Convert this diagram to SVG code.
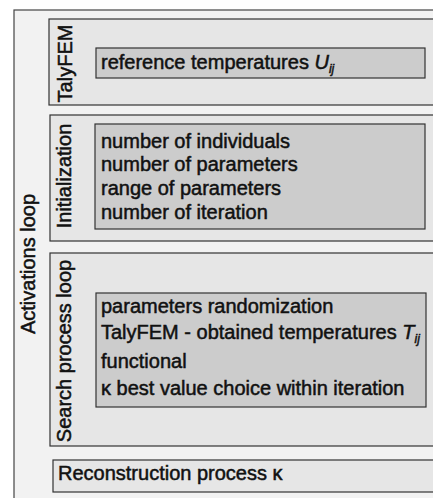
<svg xmlns="http://www.w3.org/2000/svg" width="433" height="498" viewBox="0 0 433 498">
<style>
  .outer { fill: #f2f2f2; stroke: #444; stroke-width: 1.2; }
  .mid { fill: #e6e6e6; stroke: #333; stroke-width: 1.2; }
  .inner { fill: #cccccc; stroke: #333; stroke-width: 1.2; }
  text { font-family: "Liberation Sans", Arial, Helvetica, sans-serif; font-size: 20px; fill: #111; stroke: #111; stroke-width: 0.5; }
  .it { font-style: italic; }
  .sub { font-style: italic; font-size: 12px; }
</style>
<rect width="433" height="498" fill="#ffffff"/>
<g id="activations-loop">
  <rect class="outer" x="14" y="10" width="440" height="500"/>
  <text transform="translate(35,264) rotate(-90)" text-anchor="middle" font-size="22">Activations loop</text>
</g>
<g id="talyfem">
  <rect class="mid" x="49" y="19" width="400" height="86"/>
  <text transform="translate(71.5,63.5) rotate(-90)" text-anchor="middle" font-size="19.5">TalyFEM</text>
  <rect class="inner" x="96" y="48" width="329" height="30"/>
  <text x="101" y="69">reference temperatures <tspan class="it">U</tspan><tspan class="sub" dy="4">ij</tspan></text>
</g>
<g id="initialization">
  <rect class="mid" x="50" y="115" width="400" height="126"/>
  <text transform="translate(71,176) rotate(-90)" text-anchor="middle" font-size="19.5">Initialization</text>
  <rect class="inner" x="95" y="124" width="330" height="105"/>
  <text x="101" y="147.5">number of individuals</text>
  <text x="101" y="171.3">number of parameters</text>
  <text x="101" y="195.1">range of parameters</text>
  <text x="101" y="218.9">number of iteration</text>
</g>
<g id="search-process-loop">
  <rect class="mid" x="50" y="253" width="400" height="193"/>
  <text transform="translate(71,351) rotate(-90)" text-anchor="middle" font-size="19.5">Search process loop</text>
  <rect class="inner" x="96" y="293" width="330" height="114"/>
  <text x="101" y="313">parameters randomization</text>
  <text x="101" y="339">TalyFEM - obtained temperatures <tspan class="it">T</tspan><tspan class="sub" dy="4">ij</tspan></text>
  <text x="101" y="368">functional</text>
  <text x="101" y="395">κ best value choice within iteration</text>
</g>
<g id="reconstruction-process">
  <rect class="mid" x="53" y="460" width="400" height="32"/>
  <text x="58" y="480">Reconstruction process κ</text>
</g>
<g id="connectors"></g>
</svg>
